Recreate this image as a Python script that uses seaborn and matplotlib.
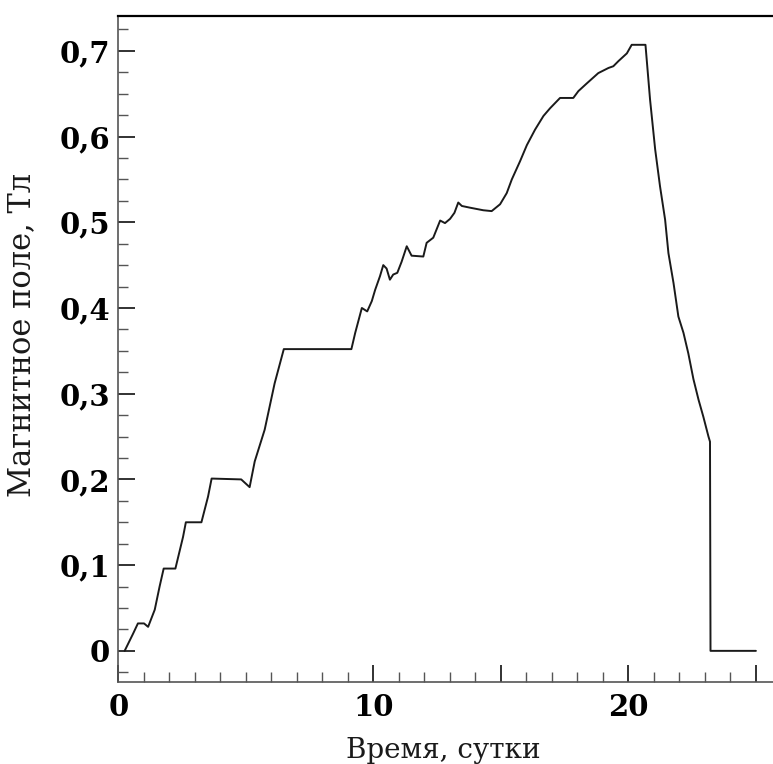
import matplotlib
matplotlib.use('Agg')
import matplotlib.pyplot as plt
from matplotlib.ticker import FixedLocator, MultipleLocator, FuncFormatter
import pandas as pd
import seaborn as sns

# magnetic field vs time
days = [0.25, 0.58, 0.77, 1.01, 1.17, 1.43, 1.62, 1.78, 2.24, 2.54, 2.65, 3.26,
        3.52, 3.66, 4.82, 5.15, 5.35, 5.74, 6.13, 6.49, 9.14, 9.29, 9.55, 9.76,
        9.94, 10.07, 10.26, 10.39, 10.52, 10.65, 10.78, 10.94, 11.11, 11.31, 11.5,
        11.96, 12.09, 12.35, 12.62, 12.81, 13.01, 13.18, 13.33, 13.47, 13.79, 14.31,
        14.64, 14.97, 15.23, 15.43, 15.75, 16.02, 16.34, 16.67, 16.93, 17.32, 17.84,
        18.04, 18.37, 18.82, 19.22, 19.41, 19.61, 19.94, 20.13, 20.67, 20.85, 21.05,
        21.24, 21.44, 21.57, 21.77, 21.96, 22.16, 22.35, 22.55, 22.75, 22.94, 23.14,
        23.2, 23.22, 25.0]
field = [0.0, 0.020, 0.032, 0.032, 0.028, 0.048, 0.075, 0.096, 0.096, 0.133, 0.150, 0.150,
         0.180, 0.201, 0.200, 0.191, 0.221, 0.258, 0.312, 0.352, 0.352, 0.371, 0.400, 0.396,
         0.408, 0.421, 0.437, 0.450, 0.446, 0.433, 0.439, 0.441, 0.454, 0.472, 0.461,
         0.460, 0.476, 0.482, 0.502, 0.499, 0.504, 0.511, 0.523, 0.519, 0.517, 0.514,
         0.513, 0.521, 0.534, 0.550, 0.571, 0.590, 0.608, 0.624, 0.633, 0.645, 0.645,
         0.653, 0.662, 0.674, 0.680, 0.682, 0.688, 0.697, 0.707, 0.707, 0.643, 0.585,
         0.542, 0.503, 0.464, 0.429, 0.390, 0.371, 0.347, 0.317, 0.293, 0.273, 0.250,
         0.244, 0.0, 0.0]

x_major = [0, 10, 15, 20, 25]
x_labels = {0: '0', 10: '10', 20: '20'}

sns.set_style('ticks')
plt.rcParams['font.family'] = ['DejaVu Serif']

df = pd.DataFrame({'t': days, 'B': field})

fig = plt.figure(figsize=(7.73, 7.64), dpi=100)
ax = fig.add_axes([0.153, 0.1077, 0.847, 0.8718])

sns.lineplot(data=df, x='t', y='B', ax=ax, estimator=None, sort=False,
             color='#1a1a1a', linewidth=1.4)

ax.set_xlim(0, 25.67)
ax.set_ylim(-0.036, 0.741)

ax.xaxis.set_major_locator(FixedLocator(x_major))
ax.xaxis.set_minor_locator(MultipleLocator(1))
ax.xaxis.set_major_formatter(FuncFormatter(lambda v, p: x_labels.get(int(round(v)), '')))
ax.yaxis.set_major_locator(MultipleLocator(0.1))
ax.yaxis.set_minor_locator(MultipleLocator(0.025))
ax.yaxis.set_major_formatter(FuncFormatter(
    lambda v, p: '0' if abs(v) < 1e-9 else ('%.1f' % v).replace('.', ',')))

ax.tick_params(which='major', direction='in', length=12, width=1.3, color='#222222',
               labelsize=21, labelcolor='black', pad=6)
ax.tick_params(axis='x', which='major', pad=8)
ax.tick_params(which='minor', direction='in', length=7, width=1.0, color='#555555')
for lab in ax.get_xticklabels() + ax.get_yticklabels():
    lab.set_fontweight('bold')

for side in ['left', 'bottom']:
    ax.spines[side].set_color('#555555')
    ax.spines[side].set_linewidth(1.2)
ax.spines['top'].set_color('black')
ax.spines['top'].set_linewidth(1.6)
ax.spines['right'].set_visible(False)

ax.set_xlabel('Время, сутки', fontsize=20, color='#1a1a1a')
ax.set_ylabel('Магнитное поле, Тл', fontsize=22, color='#1a1a1a')
ax.xaxis.set_label_coords(0.496, -0.083)
ax.yaxis.set_label_coords(-0.124, 0.52)

fig.savefig('out.png', dpi=100)
